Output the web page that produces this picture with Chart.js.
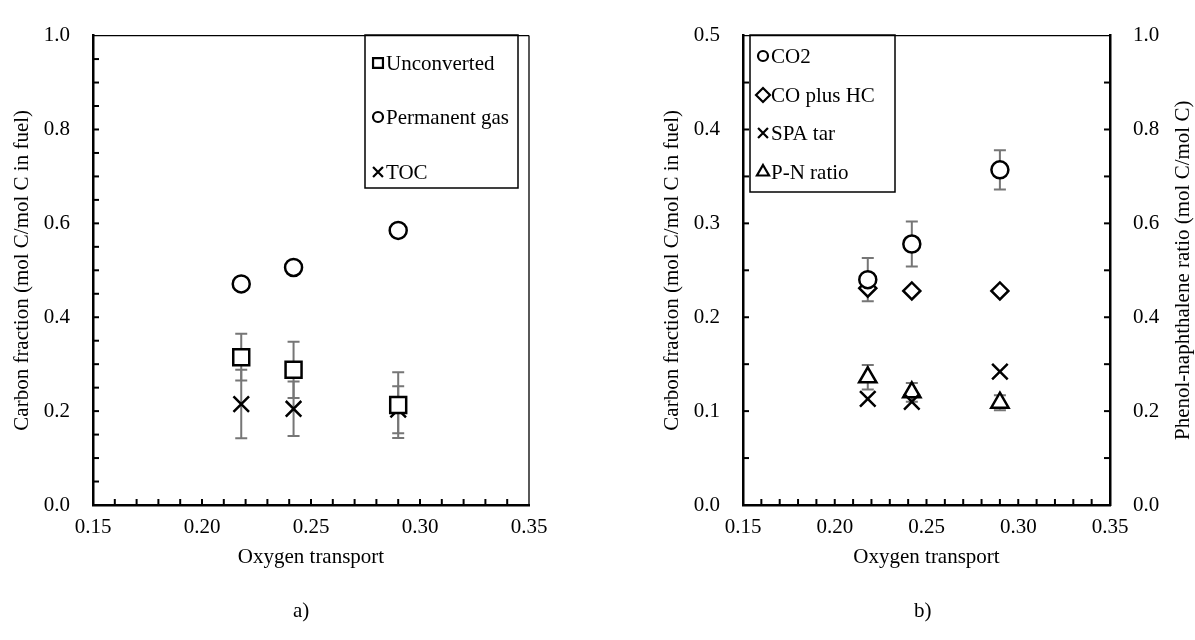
<!DOCTYPE html>
<html>
<head>
<meta charset="utf-8">
<script src="https://cdn.jsdelivr.net/npm/chart.js@4"></script>
<style>
  body { margin: 0; background: #fff; width: 1195px; height: 640px; position: relative; overflow: hidden; }
  canvas { position: absolute; top: 0; }
  #chartA { left: 0; }
  #chartB { left: 600px; }
  .panel-tag { position: absolute; top: 598px; font: 21px "Liberation Serif", "Times New Roman", serif; }
</style>
</head>
<body>
<canvas id="chartA" width="600" height="640"></canvas>
<canvas id="chartB" width="595" height="640"></canvas>
<div class="panel-tag" style="left:293px">a)</div>
<div class="panel-tag" style="left:914px">b)</div>
<script>
(function() {
  const oxygen = [0.218, 0.242, 0.290];

  // a) carbon fractions
  const unconverted = [0.315, 0.288, 0.213];
  const unconvertedErr = [0.050, 0.060, 0.070];
  const permanentGas = [0.471, 0.506, 0.585];
  const toc = [0.215, 0.205, 0.203];
  const tocErr = [0.073, 0.058, 0.050];

  // b) gas species, tar and phenol/naphthalene ratio
  const co2 = [0.240, 0.278, 0.357];
  const co2Err = [0.023, 0.024, 0.021];
  const coPlusHc = [0.231, 0.228, 0.228];
  const spaTar = [0.113, 0.110, 0.142];
  const pnRatio = [0.272, 0.240, 0.218];
  const pnErr = [0.026, 0.020, 0.016];

  const serif = '"Liberation Serif", "Times New Roman", serif';
  Chart.defaults.font.family = serif;
  Chart.defaults.font.size = 21;
  Chart.defaults.color = '#000';

  function points(ys) {
    return oxygen.map((x, i) => ({ x, y: ys[i] }));
  }

  function series(label, ys, style, radius, extra) {
    return Object.assign({
      label,
      data: points(ys),
      pointStyle: style,
      pointRadius: radius,
      pointHoverRadius: radius,
      pointBorderWidth: 2.5,
      pointBorderColor: '#000',
      pointBackgroundColor: '#fff',
      showLine: false
    }, extra || {});
  }

  // vertical error bars, drawn under the markers
  const errorBars = {
    id: 'errorBars',
    beforeDatasetsDraw(chart) {
      const ctx = chart.ctx;
      ctx.save();
      ctx.strokeStyle = '#767676';
      ctx.lineWidth = 2;
      chart.data.datasets.forEach((ds, i) => {
        if (!ds.errors) return;
        const meta = chart.getDatasetMeta(i);
        const xs = chart.scales[meta.xAxisID];
        const ys = chart.scales[meta.yAxisID];
        ds.data.forEach((p, j) => {
          const x = xs.getPixelForValue(p.x);
          const hi = ys.getPixelForValue(p.y + ds.errors[j]);
          const lo = ys.getPixelForValue(p.y - ds.errors[j]);
          ctx.beginPath();
          ctx.moveTo(x, hi); ctx.lineTo(x, lo);
          ctx.moveTo(x - 6, hi); ctx.lineTo(x + 6, hi);
          ctx.moveTo(x - 6, lo); ctx.lineTo(x + 6, lo);
          ctx.stroke();
        });
      });
      ctx.restore();
    }
  };

  // plot frame plus inward tick marks
  const frame = {
    id: 'frame',
    beforeDatasetsDraw(chart, args, opts) {
      const ctx = chart.ctx;
      const a = chart.chartArea;
      ctx.save();
      ctx.strokeStyle = '#000';
      ctx.lineWidth = 1.3;
      ctx.beginPath();
      ctx.moveTo(a.left, a.top); ctx.lineTo(a.right, a.top);
      if (opts.rightEdge) { ctx.moveTo(a.right, a.top); ctx.lineTo(a.right, a.bottom); }
      ctx.stroke();
      ctx.lineWidth = 2;
      opts.marks.forEach(m => {
        const scale = chart.scales[m.axis];
        const n = Math.round((scale.max - scale.min) / m.step);
        for (let i = 1; i < n; i++) {
          const p = scale.getPixelForValue(scale.min + i * m.step);
          const len = 6;
          ctx.beginPath();
          if (scale.isHorizontal()) {
            ctx.moveTo(p, a.bottom); ctx.lineTo(p, a.bottom - len);
          } else if (scale.position === 'left') {
            ctx.moveTo(a.left, p); ctx.lineTo(a.left + len, p);
          } else {
            ctx.moveTo(a.right, p); ctx.lineTo(a.right - len, p);
          }
          ctx.stroke();
        }
      });
      ctx.restore();
    },
    afterDraw(chart, args, opts) {
      if (!opts.rightTitle) return;
      const ctx = chart.ctx;
      const a = chart.chartArea;
      ctx.save();
      ctx.font = '21px ' + serif;
      ctx.fillStyle = '#000';
      ctx.textAlign = 'center';
      ctx.textBaseline = 'middle';
      ctx.translate(opts.rightTitleX, (a.top + a.bottom) / 2);
      ctx.rotate(-Math.PI / 2);
      ctx.fillText(opts.rightTitle, 0, 0);
      ctx.restore();
    }
  };

  // boxed legend sitting inside the plot area
  const boxLegend = {
    id: 'boxLegend',
    afterDraw(chart, args, opts) {
      const ctx = chart.ctx;
      ctx.save();
      ctx.strokeStyle = '#000';
      ctx.lineWidth = 1.5;
      ctx.strokeRect(opts.x, opts.y, opts.w, opts.h);
      ctx.font = '21px ' + serif;
      ctx.textBaseline = 'middle';
      chart.data.datasets.forEach((ds, i) => {
        const y = opts.rows[i];
        ctx.fillStyle = '#fff';
        ctx.strokeStyle = '#000';
        ctx.lineWidth = 2.2;
        Chart.helpers.drawPoint(ctx, {
          pointStyle: ds.pointStyle,
          radius: ds.pointStyle === 'circle' ? 5 : 7,
          borderWidth: 2.2,
          rotation: 0
        }, opts.x + 13, y);
        ctx.fillStyle = '#000';
        ctx.fillText(ds.label, opts.x + 21, y + 1);
      });
      ctx.restore();
    }
  };

  function xAxis() {
    return {
      type: 'linear',
      min: 0.15,
      max: 0.35,
      ticks: { stepSize: 0.05, padding: 10, callback: v => v.toFixed(2) },
      grid: { display: false, drawTicks: false },
      border: { color: '#000', width: 2.5 },
      title: { display: true, text: 'Oxygen transport', padding: { top: 0, bottom: 5 } },
      afterFit: s => { s.height = 70; }
    };
  }

  function yAxis(max, step, width, titleText, titlePad) {
    return {
      type: 'linear',
      position: 'left',
      min: 0,
      max,
      ticks: { stepSize: step, padding: 23, callback: v => v.toFixed(1) },
      grid: { display: false, drawTicks: false },
      border: { color: '#000', width: 2.5 },
      title: { display: true, text: titleText, padding: { top: titlePad, bottom: 0 } },
      afterFit: s => { s.width = width; }
    };
  }

  const common = {
    responsive: false,
    animation: false,
    events: [],
    plugins: { legend: { display: false }, tooltip: { enabled: false } }
  };

  new Chart(document.getElementById('chartA').getContext('2d'), {
    type: 'scatter',
    data: {
      datasets: [
        series('Unconverted', unconverted, 'rect', 11.3, { errors: unconvertedErr }),
        series('Permanent gas', permanentGas, 'circle', 8.5),
        series('TOC', toc, 'crossRot', 11, { errors: tocErr })
      ]
    },
    options: Object.assign({}, common, {
      layout: { padding: { top: 25, right: 71, bottom: 65, left: 0 } },
      scales: {
        x: xAxis(),
        y: yAxis(1, 0.2, 93, 'Carbon fraction (mol C/mol C in fuel)', 10)
      },
      plugins: Object.assign({}, common.plugins, {
        frame: {
          rightEdge: true,
          marks: [{ axis: 'x', step: 0.01 }, { axis: 'y', step: 0.05 }]
        },
        boxLegend: { x: 365, y: 35, w: 153, h: 153, rows: [63, 117, 172] }
      })
    }),
    plugins: [errorBars, frame, boxLegend]
  });

  new Chart(document.getElementById('chartB').getContext('2d'), {
    type: 'scatter',
    data: {
      datasets: [
        series('CO2', co2, 'circle', 8.5, { errors: co2Err }),
        series('CO plus HC', coPlusHc, 'rectRot', 8.5),
        series('SPA tar', spaTar, 'crossRot', 11),
        series('P-N ratio', pnRatio, 'triangle', 10, { yAxisID: 'y2', errors: pnErr })
      ]
    },
    options: Object.assign({}, common, {
      layout: { padding: { top: 25, right: 0, bottom: 65, left: 0 } },
      scales: {
        x: xAxis(),
        y: yAxis(0.5, 0.1, 143, 'Carbon fraction (mol C/mol C in fuel)', 60),
        y2: {
          type: 'linear',
          position: 'right',
          min: 0,
          max: 1,
          ticks: { stepSize: 0.2, padding: 23, callback: v => v.toFixed(1) },
          grid: { display: false, drawTicks: false },
          border: { color: '#000', width: 2.5 },
          afterFit: s => { s.width = 85; }
        }
      },
      plugins: Object.assign({}, common.plugins, {
        frame: {
          rightEdge: false,
          marks: [{ axis: 'x', step: 0.01 }, { axis: 'y', step: 0.05 }, { axis: 'y2', step: 0.1 }],
          rightTitle: 'Phenol-naphthalene ratio (mol C/mol C)',
          rightTitleX: 583
        },
        boxLegend: { x: 150, y: 35, w: 145, h: 157, rows: [56, 95, 133, 172] }
      })
    }),
    plugins: [errorBars, frame, boxLegend]
  });
})();
</script>
</body>
</html>
